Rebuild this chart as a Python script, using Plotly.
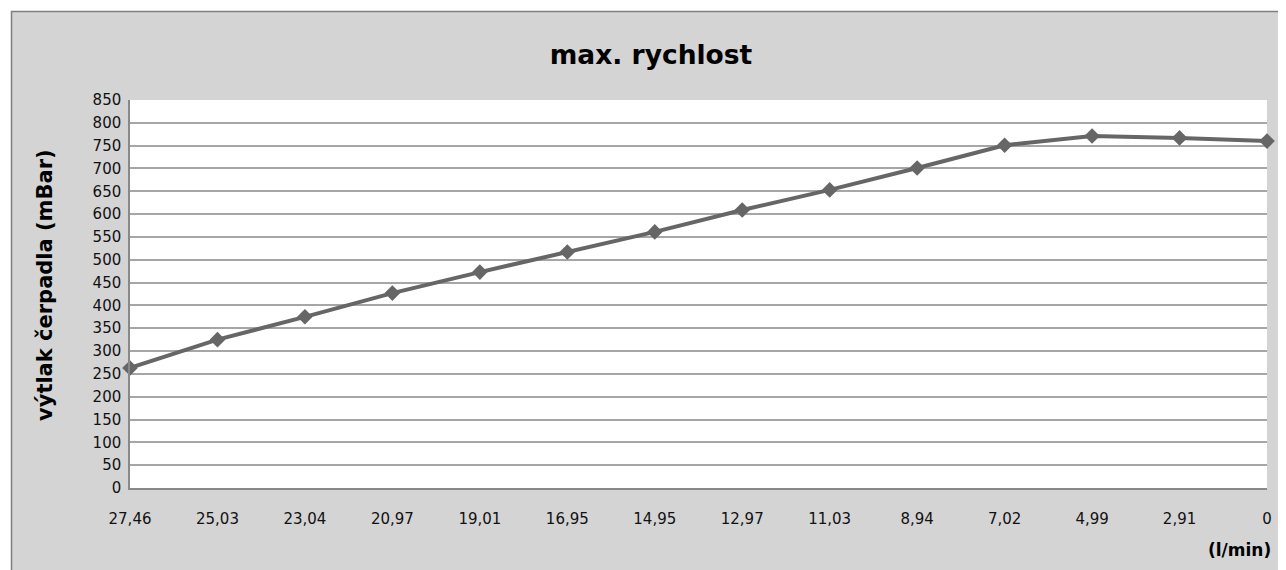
import plotly.graph_objects as go

categories = ["27,46", "25,03", "23,04", "20,97", "19,01", "16,95", "14,95",
              "12,97", "11,03", "8,94", "7,02", "4,99", "2,91", "0"]
pressure = [263, 325, 375, 427, 473, 517, 561, 609, 653, 701, 751, 771, 767, 760]
y_ticks = list(range(0, 851, 50))

OFF = 8  # page body margin
W, H = 1286 - OFF, 570 - OFF
ml, mt = 130 - OFF, 100 - OFF
mr = W - (1267 - OFF)
mb = H - (488 - OFF)
pw, ph = W - ml - mr, H - mt - mb

def px_x(p):
    return (p - OFF - ml) / pw

def px_y(p):
    return (H - mb - (p - OFF)) / ph

font = "DejaVu Sans"

fig = go.Figure()
fig.add_trace(go.Scatter(
    x=categories, y=pressure, mode="lines+markers",
    line=dict(color="#666666", width=4),
    marker=dict(symbol="diamond", size=12, color="#666666"),
    showlegend=False, cliponaxis=False,
))

fig.update_layout(
    width=W, height=H,
    margin=dict(l=ml, r=mr, t=mt, b=mb),
    paper_bgcolor="#ffffff",
    plot_bgcolor="rgba(0,0,0,0)",
    font=dict(family=font, color="#111111", size=15),
    title=dict(text="<b>max. rychlost</b>", x=px_x(651), xref="paper", xanchor="center",
               y=1 - (55 - OFF) / H, yanchor="middle", font=dict(size=26.5, color="#000000")),
    xaxis=dict(type="category", range=[0, len(categories) - 1], showgrid=False,
               showline=True, linecolor="#888888", linewidth=1.5, ticks="",
               tickfont=dict(size=15), ticklabelstandoff=16, zeroline=False),
    yaxis=dict(range=[0, 850], tickvals=y_ticks, showgrid=True, gridcolor="#a6a6a6",
               gridwidth=1.5, showline=True, linecolor="#888888", linewidth=1.5,
               ticks="", tickfont=dict(size=15), ticklabelstandoff=4, zeroline=False),
    shapes=[
        dict(type="rect", xref="paper", yref="paper", layer="below",
             x0=px_x(11.5), x1=px_x(1300), y0=px_y(580), y1=px_y(11.5),
             fillcolor="#d4d4d4", line=dict(color="#7f7f7f", width=1.5)),
        dict(type="rect", xref="paper", yref="paper", layer="below",
             x0=0, x1=1, y0=0, y1=1, fillcolor="#ffffff", line=dict(width=0)),
    ],
    annotations=[
        dict(text="<b>výtlak čerpadla (mBar)</b>", xref="paper", yref="paper",
             x=px_x(45), y=px_y(285), xanchor="center", yanchor="middle",
             textangle=-90, showarrow=False, font=dict(size=21, color="#000000")),
        dict(text="<b>(l/min)</b>", xref="paper", yref="paper", x=px_x(1273), y=px_y(550),
             xanchor="right", yanchor="middle", showarrow=False,
             font=dict(size=17, color="#000000")),
    ],
)

fig.write_html("out.html")
